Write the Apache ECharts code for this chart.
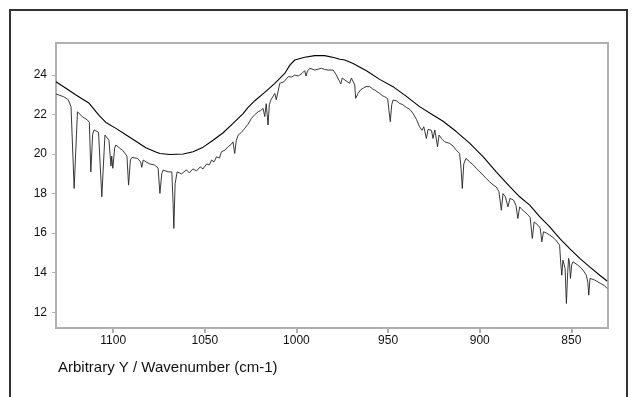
<!DOCTYPE html>
<html>
<head>
<meta charset="utf-8">
<script src="https://cdn.jsdelivr.net/npm/echarts@6/dist/echarts.min.js"></script>
<style>
html,body{margin:0;padding:0;background:#fff;}
#main{width:636px;height:397px;}
</style>
</head>
<body>
<div id="main"></div>
<script>
// Tick labels
var xTicks = [1100, 1050, 1000, 950, 900, 850];
var yTicks = [12, 14, 16, 18, 20, 22, 24];
var xTitle = 'Arbitrary Y / Wavenumber (cm-1)';

// Upper (smooth) trace
var upperWn = [1131.2,1125.8,1120.3,1113.1,1107.6,1104,1098.5,1093.1,1087.6,1082.2,1076.7,1074.5,1069,1061.8,1056.4,1050.9,1045.5,1040,1034.6,1029.1,1026.5,1022.7,1017.3,1011.8,1006.4,1003.6,1000.9,995.5,990,984.6,979.1,976.4,973.6,969.1,961.8,954.6,947.3,940,932.8,927.3,920,912.8,905.5,898.2,891,883.7,878.2,872.7,867.3,861.8,856.4,850.9,845.4,840,834.5,830.5];
var upperVal = [23.66,23.33,22.99,22.57,21.95,21.6,21.3,20.98,20.65,20.32,20.1,20.03,19.98,20.0,20.12,20.35,20.7,21.08,21.55,22.05,22.35,22.7,23.12,23.58,24.08,24.5,24.76,24.9,24.98,24.98,24.87,24.8,24.76,24.58,24.22,23.78,23.41,22.92,22.4,22.08,21.66,21.14,20.55,19.87,19.1,18.36,17.84,17.42,16.83,16.32,15.73,15.22,14.72,14.29,13.87,13.58];

// Lower (absorption) trace
var lowerWn = [1131.2,1127,1124.5,1123,1121.3,1119.5,1118.5,1116.8,1114,1113,1112.2,1111.2,1110.4,1108,1106.2,1104.5,1102.3,1101.2,1100.8,1100.2,1099.2,1098.5,1096.5,1094.9,1092.5,1091.6,1090.6,1089.8,1086.7,1085,1084.4,1083.6,1082,1080,1077.5,1075.5,1074.5,1073.5,1072.7,1070,1068,1067.3,1066.9,1066.2,1065.1,1062.7,1060,1058.5,1056.5,1054.5,1052.5,1051,1049,1047.5,1046.3,1045,1043.6,1042,1040.9,1039,1037.3,1035.5,1034.6,1033.7,1032.8,1031.8,1030,1028.2,1026.5,1024.5,1022.7,1020.9,1019.5,1018.2,1017.3,1016.5,1015.5,1014.8,1014,1013,1011.8,1011,1009.1,1006.8,1004.5,1002.5,1000.9,999,997,995.5,994.8,994,992.7,990,988,986.4,984.6,982.7,980,978.2,977.2,976.4,975.8,975,973.6,971,970,969.1,968.2,967.7,966.4,965,963.6,962,960,958.5,957.3,954.6,953,951.8,950.2,949.5,948.8,948,947.3,945.5,943.6,942,940,938,936.4,934.5,932.8,931.5,930.5,929.1,928.2,927.3,926.3,925.5,924.5,923,922.2,920.5,919.1,916.4,914.5,912.8,911,910.2,909.5,908.7,907.5,905.5,903.5,901.9,900,898.2,896.5,894.6,892.8,891,889.5,888.2,887.3,886,884.6,883.5,881.5,880.2,879.2,878.2,877,875.5,874,872.5,871.3,870.3,868.2,867,866.1,865.2,863.5,861.8,860,858.5,856.4,855.8,855.2,854.6,853.4,852.7,852,851.5,851,850.5,849.8,849.1,846.4,843.6,841.8,841,840.5,839.8,837.3,834,832,830.5];
var lowerVal = [23.04,22.9,22.75,22.4,18.26,22.14,22.2,21.89,21.72,21.6,19.1,21.0,21.22,21.1,17.84,20.96,20.7,19.4,19.9,19.28,20.3,20.46,20.3,20.2,19.9,18.43,19.7,19.83,19.78,19.6,19.33,19.7,19.6,19.5,19.45,19.3,18.01,19.0,19.19,19.1,19.1,17.5,16.24,18.5,19.1,19.0,19.2,19.05,19.25,19.15,19.35,19.25,19.5,19.45,19.7,19.6,19.86,19.8,20.12,20.2,20.37,20.5,20.62,20.03,20.7,20.96,21.1,21.3,21.5,21.81,22.0,22.14,22.2,22.31,21.9,22.55,21.47,22.5,22.73,22.65,23.07,22.75,23.58,23.66,23.92,23.9,24.0,23.95,24.08,24.22,23.95,24.2,24.34,24.25,24.3,24.34,24.28,24.25,24.25,24.0,23.8,23.66,23.55,23.85,23.75,23.58,23.85,23.92,23.5,22.82,23.07,23.25,23.33,23.42,23.41,23.3,23.24,23.07,22.95,22.9,22.8,22.2,21.64,22.5,22.73,22.7,22.56,22.5,22.36,22.25,22.06,21.75,21.38,21.2,21.38,20.79,21.25,21.3,21.2,20.79,21.22,20.37,20.96,20.75,20.62,20.54,20.4,20.2,20.03,19.3,18.26,19.5,19.78,19.61,19.45,19.28,19.1,18.94,18.77,18.6,18.45,18.34,18.1,17.16,18.0,17.84,17.33,17.76,17.67,17.4,16.74,17.33,17.2,17.08,16.95,16.8,15.73,16.57,16.4,16.25,15.56,16.07,16.0,15.9,15.78,15.65,15.39,14.5,13.87,14.63,14.2,12.44,14.0,14.72,14.5,13.71,14.4,14.55,14.38,14.13,13.87,13.5,12.86,13.71,13.63,13.45,13.35,13.2];

function pairs(xs, ys){ var out=[]; for (var i=0;i<xs.length;i++) out.push([xs[i], ys[i]]); return out; }
function plain(v){ return String(v); }

var chart = echarts.init(document.getElementById('main'), null, {renderer:'canvas'});
var axisGray = '#b0b0b0';
var font = 'Liberation Sans, Arial, sans-serif';
chart.setOption({
  animation: false,
  backgroundColor: '#fff',
  grid: { left: 56, right: 28, top: 43, bottom: 69, show: true, borderColor: axisGray, borderWidth: 2, backgroundColor: 'transparent' },
  title: {
    text: xTitle, left: 58, top: 360, padding: 0,
    textStyle: { fontFamily: font, fontSize: 15, fontWeight: 'normal', color: '#111' }
  },
  graphic: [{
    type: 'rect', silent: true, z: -1,
    shape: { x: 10, y: 10, width: 617, height: 420 },
    style: { fill: 'none', stroke: '#333', lineWidth: 2 }
  }],
  xAxis: {
    type: 'value', inverse: true, min: 830, max: 1131.2,
    axisLine: { show: true, lineStyle: { color: axisGray, width: 2 } },
    axisTick: { show: true, customValues: xTicks, length: 5, lineStyle: { color: axisGray, width: 2 } },
    axisLabel: { customValues: xTicks, formatter: plain, color: '#111', fontSize: 12, fontFamily: font, margin: 7 },
    splitLine: { show: false }
  },
  yAxis: {
    type: 'value', min: 11.2, max: 25.62,
    axisLine: { show: true, lineStyle: { color: axisGray, width: 2 } },
    axisTick: { show: true, customValues: yTicks, length: 4, lineStyle: { color: axisGray, width: 1 } },
    axisLabel: { customValues: yTicks, formatter: plain, color: '#111', fontSize: 12, fontFamily: font, margin: 9 },
    splitLine: { show: false }
  },
  series: [
    { type: 'line', data: pairs(upperWn, upperVal), showSymbol: false, symbol: 'none',
      lineStyle: { color: '#000', width: 1.1 }, z: 3 },
    { type: 'line', data: pairs(lowerWn, lowerVal), showSymbol: false, symbol: 'none',
      lineStyle: { color: '#222', width: 0.9 }, z: 2 }
  ]
});
</script>
</body>
</html>
